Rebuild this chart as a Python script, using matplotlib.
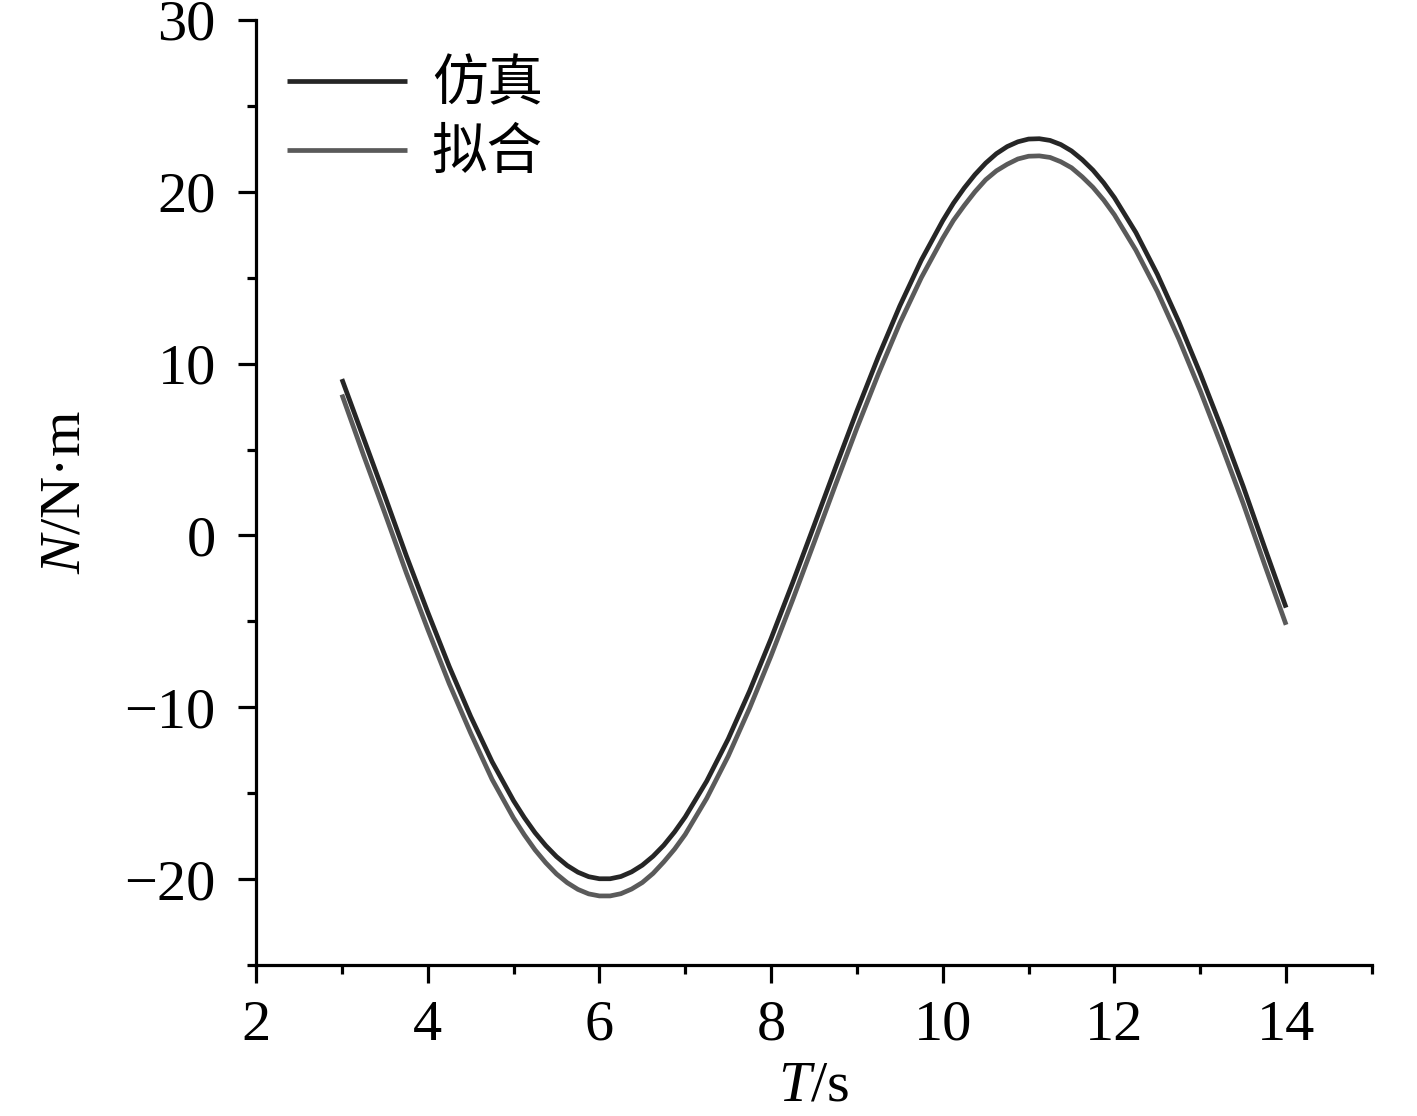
import matplotlib
matplotlib.use("Agg")
import matplotlib.pyplot as plt
from matplotlib.ticker import MultipleLocator

plt.rcParams["font.family"] = ["Liberation Serif", "Noto Sans CJK SC"]
plt.rcParams["mathtext.fontset"] = "custom"
plt.rcParams["mathtext.it"] = "Liberation Serif:italic"
plt.rcParams["mathtext.rm"] = "Liberation Serif"
plt.rcParams["axes.unicode_minus"] = True

# time (s)
t = [3.00, 3.25, 3.50, 3.75, 4.00, 4.25, 4.50, 4.75, 5.00, 5.125, 5.25, 5.375,
     5.50, 5.625, 5.75, 5.875, 6.00, 6.125, 6.25, 6.375, 6.50, 6.625, 6.75,
     6.875, 7.00, 7.25, 7.50, 7.75, 8.00, 8.25, 8.50, 8.75, 9.00, 9.25, 9.50,
     9.75, 10.00, 10.125, 10.25, 10.375, 10.50, 10.625, 10.75, 10.875, 11.00,
     11.125, 11.25, 11.375, 11.50, 11.625, 11.75, 11.875, 12.00, 12.25, 12.50,
     12.75, 13.00, 13.25, 13.50, 13.75, 14.00]

# simulated torque (N·m)
sim = [9.1, 5.7, 2.3, -1.17, -4.46, -7.62, -10.53, -13.17, -15.44, -16.42,
       -17.30, -18.05, -18.69, -19.21, -19.60, -19.86, -19.98, -19.98, -19.85,
       -19.58, -19.19, -18.67, -18.03, -17.26, -16.38, -14.30, -11.85, -9.05,
       -6.00, -2.77, 0.57, 3.94, 7.25, 10.41, 13.36, 16.02, 18.32, 19.34,
       20.22, 21.00, 21.67, 22.22, 22.63, 22.91, 23.07, 23.09, 22.99, 22.75,
       22.38, 21.87, 21.26, 20.52, 19.66, 17.63, 15.20, 12.44, 9.42, 6.22,
       2.86, -0.70, -4.2]

# fitted torque (N·m)
fit = [8.2, 4.7, 1.3, -2.17, -5.46, -8.62, -11.5, -14.2, -16.45, -17.42,
       -18.3, -19.05, -19.7, -20.21, -20.6, -20.86, -20.98, -20.98, -20.85,
       -20.58, -20.2, -19.67, -19.0, -18.26, -17.4, -15.3, -12.85, -10.05,
       -7.0, -3.77, -0.43, 2.94, 6.25, 9.4, 12.36, 15.0, 17.3, 18.34,
       19.2, 20.0, 20.7, 21.22, 21.6, 21.91, 22.07, 22.09, 22.0, 21.75,
       21.4, 20.87, 20.26, 19.52, 18.66, 16.6, 14.2, 11.44, 8.42, 5.2,
       1.86, -1.7, -5.2]

labels = ["仿真", "拟合"]

fig = plt.figure(figsize=(14.17, 11.16), dpi=100)
ax = fig.add_axes([0.1807, 0.1353, 0.7875, 0.8468])

ax.plot(t, sim, color="#262626", linewidth=3.4, label=labels[0],
        solid_joinstyle="round", solid_capstyle="butt")
ax.plot(t, fit, color="#5a5a5a", linewidth=3.4, label=labels[1],
        solid_joinstyle="round", solid_capstyle="butt")

ax.set_xlim(2, 15)
ax.set_ylim(-25, 30)
ax.xaxis.set_major_locator(MultipleLocator(2))
ax.xaxis.set_minor_locator(MultipleLocator(1))
ax.yaxis.set_major_locator(MultipleLocator(10))
ax.yaxis.set_minor_locator(MultipleLocator(5))

for side in ["top", "right"]:
    ax.spines[side].set_visible(False)
for side in ["left", "bottom"]:
    ax.spines[side].set_linewidth(2.3)

ax.tick_params(which="major", direction="out", length=13, width=2.3, labelsize=42)
ax.tick_params(which="minor", direction="out", length=6.5, width=2.3)
ax.tick_params(axis="x", which="major", pad=12)
ax.tick_params(axis="y", which="major", pad=16)

ax.set_xlabel(r"$\mathit{T}$/s", fontsize=42, labelpad=6)
ax.set_ylabel(r"$\mathit{N}$/N·m", fontsize=42, labelpad=24)

leg = ax.legend(loc="upper left", bbox_to_anchor=(0.028, 0.962), frameon=False,
                prop={"family": "Noto Sans CJK SC", "size": 40},
                handlelength=2.15, handletextpad=0.45, labelspacing=0.2,
                borderpad=0, borderaxespad=0)

fig.savefig("out.png", dpi=100)
